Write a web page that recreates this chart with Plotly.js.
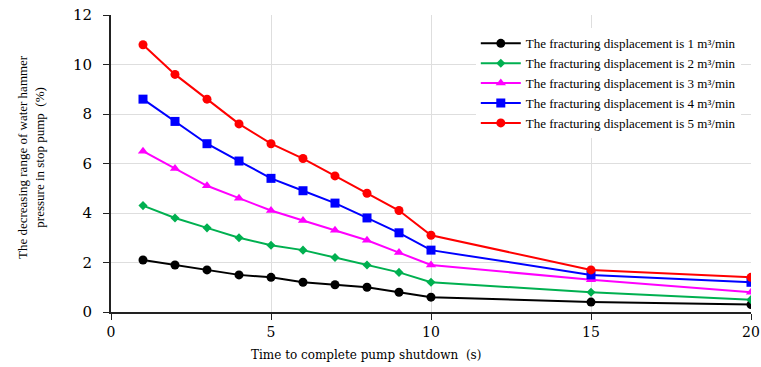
<!DOCTYPE html>
<html><head><meta charset="utf-8">
<script src="https://cdn.plot.ly/plotly-3.0.1.min.js"></script>
<style>body{margin:0;}#chart{width:761px;height:367px;}</style>
</head><body><div id="chart"></div>
<script>
const times = [1,2,3,4,5,6,7,8,9,10,15,20];
const names = [
  "The fracturing displacement is 1 m³/min",
  "The fracturing displacement is 2 m³/min",
  "The fracturing displacement is 3 m³/min",
  "The fracturing displacement is 4 m³/min",
  "The fracturing displacement is 5 m³/min"
];
const q1 = [2.1,1.9,1.7,1.5,1.4,1.2,1.1,1.0,0.8,0.6,0.4,0.3];
const q2 = [4.3,3.8,3.4,3.0,2.7,2.5,2.2,1.9,1.6,1.2,0.8,0.5];
const q3 = [6.5,5.8,5.1,4.6,4.1,3.7,3.3,2.9,2.4,1.9,1.3,0.8];
const q4 = [8.6,7.7,6.8,6.1,5.4,4.9,4.4,3.8,3.2,2.5,1.5,1.2];
const q5 = [10.8,9.6,8.6,7.6,6.8,6.2,5.5,4.8,4.1,3.1,1.7,1.4];
const xTicks = [0,5,10,15,20];
const yTicks = [0,2,4,6,8,10,12];
const xTitle = "Time to complete pump shutdown  (s)";
const yTitle = "The decreasing range of water hammer<br>pressure in stop pump  (%)";
const series = [q1,q2,q3,q4,q5];
const colors = ["#000000","#00b050","#ff00ff","#0000ff","#ff0000"];
const symbols = ["circle","diamond","triangle-up","square","circle"];
const sizes = [9,7,9,9,9];
const traces = series.map((s,i)=>({
  x: times, y: s, name: names[i], type:"scatter", mode:"lines+markers",
  line:{color:colors[i], width:2},
  marker:{color:colors[i], symbol:symbols[i], size:sizes[i]}
}));
const serif = "Liberation Serif, Times New Roman, serif";
const wide = "DejaVu Serif, serif";
const layout = {
  width:761, height:367,
  margin:{l:111, r:10, t:15, b:55},
  paper_bgcolor:"#fff", plot_bgcolor:"#fff",
  font:{family:wide, color:"#000"},
  showlegend:true,
  legend:{x:0.57, y:0.955, xanchor:"left", yanchor:"top", bgcolor:"#fff",
    font:{family:serif, size:13, color:"#000"}, tracegroupgap:0, itemwidth:40},
  xaxis:{range:[0,20], tickvals:xTicks, showgrid:true, gridcolor:"#dedede",
    showline:true, linecolor:"#222", linewidth:2, ticks:"outside", ticklen:6, tickcolor:"#222",
    zeroline:false, tickfont:{family:wide, size:14}},
  yaxis:{range:[0,12], tickvals:yTicks, showgrid:true, gridcolor:"#dedede",
    showline:true, linecolor:"#222", linewidth:2, ticks:"outside", ticklen:6, tickcolor:"#222",
    zeroline:false, tickfont:{family:wide, size:15}, ticklabelstandoff:8},
  annotations:[
    {text:xTitle, xref:"paper", yref:"paper", x:(366-111)/640, y:-(355-312)/297,
     xanchor:"center", yanchor:"middle", showarrow:false, font:{family:wide, size:12}},
    {text:yTitle, xref:"paper", yref:"paper", x:-(111-31)/640, y:(312-157)/297,
     xanchor:"center", yanchor:"middle", textangle:-90, showarrow:false,
     font:{family:serif, size:13}}
  ]
};
Plotly.newPlot("chart", traces, layout, {displayModeBar:false});
</script></body></html>
